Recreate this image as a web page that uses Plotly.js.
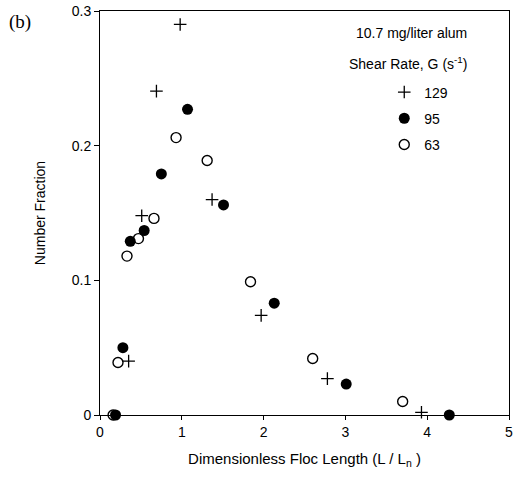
<!DOCTYPE html>
<html><head><meta charset="utf-8">
<script src="https://cdn.plot.ly/plotly-3.0.1.min.js"></script>
<style>html,body{margin:0;padding:0;background:#fff}#chart{width:513px;height:477px}</style>
</head><body><div id="chart"></div>
<script>
// Shear rate G = 129 s^-1 (plus)
const x129 = [0.98, 0.69, 1.37, 0.51, 0.35, 1.97, 2.78, 3.93];
const y129 = [0.290, 0.2405, 0.160, 0.148, 0.040, 0.074, 0.027, 0.002];
// Shear rate G = 95 s^-1 (filled circle)
const x95 = [1.07, 0.75, 1.51, 0.54, 0.37, 0.28, 0.19, 2.13, 3.01, 4.27];
const y95 = [0.227, 0.179, 0.156, 0.137, 0.129, 0.050, 0.000, 0.083, 0.023, 0.000];
// Shear rate G = 63 s^-1 (open circle)
const x63 = [0.93, 1.31, 0.66, 0.47, 0.33, 1.84, 0.22, 2.60, 3.70, 0.16];
const y63 = [0.206, 0.189, 0.146, 0.131, 0.118, 0.099, 0.039, 0.042, 0.010, 0.000];
const names = ["129", "95", "63"];
const xTicks = [0, 1, 2, 3, 4, 5];
const yTicks = [0, 0.1, 0.2, 0.3];
const yTickText = ["0", "0.1", "0.2", "0.3"];

const font = {family: "Liberation Sans, Arial, sans-serif", size: 14, color: "#000"};
const traces = [
  {x: x129, y: y129, name: names[0], legendgroup: "a", type: "scatter", mode: "markers", cliponaxis: false,
   marker: {symbol: "cross-thin", size: 9, color: "#000", line: {color: "#000", width: 1.3}}},
  {x: x95, y: y95, name: names[1], legendgroup: "b", type: "scatter", mode: "markers", cliponaxis: false,
   marker: {symbol: "circle", size: 11, color: "#000", line: {width: 0}}},
  {x: x63, y: y63, name: names[2], legendgroup: "c", type: "scatter", mode: "markers", cliponaxis: false,
   marker: {symbol: "circle-open", size: 10, color: "#000", line: {color: "#000", width: 1.4}}}
];
const layout = {
  width: 513, height: 477,
  margin: {l: 100, r: 4, t: 11, b: 62},
  paper_bgcolor: "#fff", plot_bgcolor: "#fff",
  font: font,
  showlegend: true,
  legend: {x: 0.695, y: 0.838, xanchor: "left", yanchor: "top", traceorder: "grouped", tracegroupgap: 5,
           font: font, bgcolor: "rgba(0,0,0,0)", itemwidth: 30},
  xaxis: {range: [0, 5], tickvals: xTicks, ticks: "outside", ticklen: 4, tickcolor: "#000",
          ticklabeloverflow: "allow",
          showline: true, linecolor: "#000", linewidth: 1, mirror: true, showgrid: false, zeroline: false,
          tickfont: font,
          title: {text: "Dimensionless Floc Length (L / L<sub>n</sub> )", font: {family: font.family, size: 15, color: "#000"}, standoff: 14}},
  yaxis: {range: [0, 0.3], tickvals: yTicks, ticktext: yTickText, ticks: "outside", ticklen: 5, tickcolor: "#000",
          showline: true, linecolor: "#000", linewidth: 1, mirror: true, showgrid: false, zeroline: false,
          tickfont: font,
          title: {text: "Number Fraction", font: font, standoff: 22}},
  annotations: [
    {text: "(b)", xref: "paper", yref: "paper", x: -0.228, y: 0.972, xanchor: "left", yanchor: "middle",
     showarrow: false, font: {family: "Liberation Serif, Times New Roman, serif", size: 19, color: "#000"}},
    {text: "10.7 mg/liter alum", xref: "paper", yref: "paper", x: 0.62, y: 0.946, xanchor: "left", yanchor: "middle",
     showarrow: false, font: font},
    {text: "Shear Rate, G (s<sup>-1</sup>)", xref: "paper", yref: "paper", x: 0.605, y: 0.872, xanchor: "left", yanchor: "middle",
     showarrow: false, font: font}
  ]
};
Plotly.newPlot("chart", traces, layout, {displayModeBar: false, staticPlot: true});
</script></body></html>
